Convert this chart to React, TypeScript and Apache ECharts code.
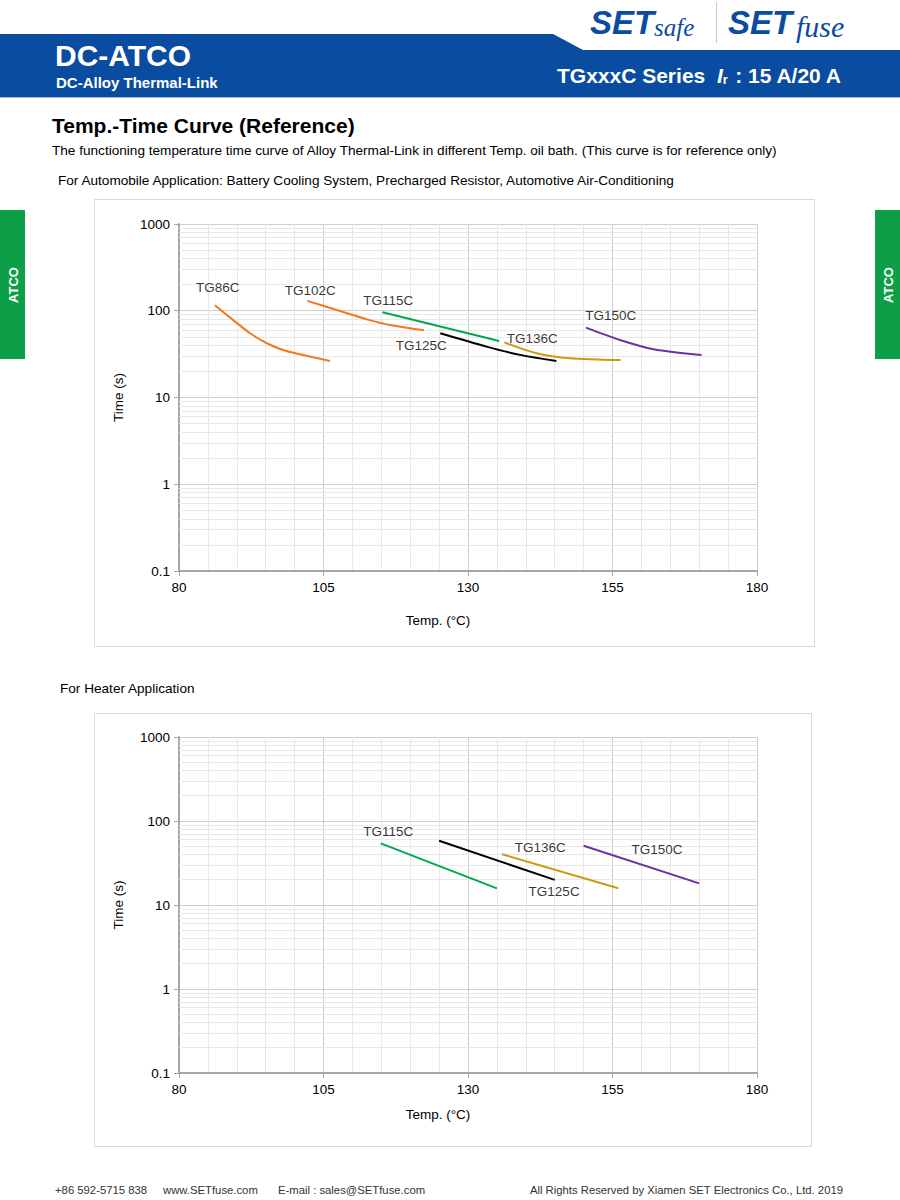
import React, { useEffect, useRef } from "react";
import * as echarts from "echarts";

// ---------- data ----------
const xTicks = [80, 105, 130, 155, 180];
const yTicks = [0.1, 1, 10, 100, 1000];
const minorMantissas = [2, 3, 4, 5, 6, 7, 8, 9];
const decades = [0.1, 1, 10, 100];

// Automobile application curves [temp °C, time s]
const autoTG86C = [[86.2, 116], [89.4, 78], [92.3, 55], [95.2, 42.2], [98, 35.3], [100.9, 31.5], [106.1, 26.4]];
const autoTG102C = [[102.2, 130], [107.3, 102], [113, 78], [116.5, 68.5], [122.4, 59.6]];
const autoTG115C = [[115.2, 96], [135.4, 44.8]];
const autoTG125C = [[125.2, 55], [133.2, 38.6], [139, 31], [145.3, 26.4]];
const autoTG136C = [[136.3, 43.2], [141.9, 32.4], [147.6, 28.3], [156.4, 27.0]];
const autoTG150C = [[150.4, 63.8], [156.3, 46], [162.1, 36], [170.4, 30.9]];
const autoLabels = [
  { name: "TG86C", value: [86.7, 183] },
  { name: "TG102C", value: [102.7, 173] },
  { name: "TG115C", value: [116.2, 133] },
  { name: "TG125C", value: [121.9, 39.3] },
  { name: "TG136C", value: [141.1, 48.5] },
  { name: "TG150C", value: [154.7, 87] },
];

// Heater application curves
const heatTG115C = [[114.9, 54.2], [135, 15.8]];
const heatTG125C = [[125, 58.2], [145, 19.9]];
const heatTG136C = [[135.9, 40.2], [156, 15.8]];
const heatTG150C = [[150, 50.8], [170, 18.1]];
const heatLabels = [
  { name: "TG115C", value: [116.2, 74] },
  { name: "TG125C", value: [144.9, 14.3] },
  { name: "TG136C", value: [142.5, 49] },
  { name: "TG150C", value: [162.7, 46.4] },
];

const COLORS = {
  orange: "#f07a22",
  green: "#00a84f",
  black: "#000000",
  gold: "#c99a12",
  purple: "#7030a0",
};

const FONT = "'Liberation Sans', Arial, Helvetica, sans-serif";
const BLUE = "#0a4c9f";
const FS = 13.5;

export default function App() {
  const ref = useRef<HTMLDivElement>(null);

  useEffect(() => {
    if (!ref.current) return;
    const chart = echarts.init(ref.current, null, { renderer: "svg" });

    const minorValues: number[] = [];
    decades.forEach((d) => minorMantissas.forEach((m) => minorValues.push(+(d * m).toPrecision(3))));

    const xAxisBase = (gridIndex: number, nameGap: number) => ({
      type: "value",
      gridIndex,
      min: xTicks[0],
      max: xTicks[xTicks.length - 1],
      interval: 25,
      name: "Temp. (°C)",
      nameLocation: "middle",
      nameGap,
      nameTextStyle: { fontFamily: FONT, fontSize: FS, color: "#000", padding: [0, 60, 0, 0] },
      axisLine: { show: true, lineStyle: { color: "#a6a6a6", width: 2 } },
      axisTick: { show: true, length: 5, lineStyle: { color: "#a6a6a6" } },
      axisLabel: { fontFamily: FONT, fontSize: FS, color: "#000", margin: 9 },
      splitLine: { show: true, lineStyle: { color: "#cfcfcf", width: 1 } },
      minorTick: { show: false, splitNumber: 5 },
      minorSplitLine: { show: true, lineStyle: { color: "#e8e8e8", width: 1 } },
    });

    const yAxisBase = (gridIndex: number) => ({
      type: "log",
      logBase: 10,
      gridIndex,
      min: yTicks[0],
      max: yTicks[yTicks.length - 1],
      name: "Time (s)",
      nameLocation: "middle",
      nameGap: 54,
      nameTextStyle: { fontFamily: FONT, fontSize: FS, color: "#000" },
      axisLine: { show: true, lineStyle: { color: "#a6a6a6", width: 2 } },
      axisTick: { show: true, length: 5, lineStyle: { color: "#a6a6a6" } },
      axisLabel: {
        fontFamily: FONT,
        fontSize: FS,
        color: "#000",
        margin: 9,
        formatter: (v: number) => String(+v.toPrecision(3)),
      },
      splitLine: { show: true, lineStyle: { color: "#cfcfcf", width: 1 } },
    });

    const gridMinor = (idx: number) => ({
      type: "line",
      xAxisIndex: idx,
      yAxisIndex: idx,
      data: [],
      silent: true,
      z: 1,
      markLine: {
        silent: true,
        symbol: ["none", "none"],
        label: { show: false },
        lineStyle: { color: "#e8e8e8", type: "solid", width: 1 },
        data: minorValues.map((v) => ({ yAxis: v })),
      },
    });

    const curve = (idx: number, data: number[][], color: string, smooth: boolean) => ({
      type: "line",
      xAxisIndex: idx,
      yAxisIndex: idx,
      data,
      smooth: smooth ? 0.3 : false,
      showSymbol: false,
      symbol: "none",
      z: 5,
      lineStyle: { color, width: 2 },
    });

    const labels = (idx: number, data: any[]) => ({
      type: "scatter",
      xAxisIndex: idx,
      yAxisIndex: idx,
      symbolSize: 0,
      z: 6,
      data,
      label: {
        show: true,
        formatter: "{b}",
        position: [0, 0],
        align: "center",
        verticalAlign: "middle",
        fontFamily: FONT,
        fontSize: FS,
        color: "#000",
      },
    });

    const txt = (x: number, y: number, text: string, style: any = {}) => ({
      type: "text",
      x,
      y,
      style: { text, fontFamily: FONT, fill: "#000", fontSize: FS, verticalAlign: "middle", ...style },
    });

    const option: any = {
      animation: false,
      backgroundColor: "#ffffff",
      grid: [
        { left: 179, top: 224, width: 578, height: 347 },
        { left: 179, top: 737, width: 578, height: 336 },
      ],
      xAxis: [xAxisBase(0, 42), xAxisBase(1, 34)],
      yAxis: [yAxisBase(0), yAxisBase(1)],
      series: [
        gridMinor(0),
        gridMinor(1),
        curve(0, autoTG86C, COLORS.orange, true),
        curve(0, autoTG102C, COLORS.orange, true),
        curve(0, autoTG115C, COLORS.green, false),
        curve(0, autoTG125C, COLORS.black, true),
        curve(0, autoTG136C, COLORS.gold, true),
        curve(0, autoTG150C, COLORS.purple, true),
        labels(0, autoLabels),
        curve(1, heatTG115C, COLORS.green, false),
        curve(1, heatTG125C, COLORS.black, false),
        curve(1, heatTG136C, COLORS.gold, false),
        curve(1, heatTG150C, COLORS.purple, false),
        labels(1, heatLabels),
      ],
      graphic: [
        // header band
        {
          type: "polygon",
          shape: { points: [[0, 34], [553, 34], [583, 50], [900, 50], [900, 97], [0, 97]] },
          style: { fill: BLUE },
          z: 0,
        },
        { type: "rect", shape: { x: 0, y: 97, width: 900, height: 1 }, style: { fill: "#9db8dc" } },
        txt(55, 55, "DC-ATCO", { fill: "#fff", fontSize: 30, fontWeight: "bold" }),
        txt(56, 82, "DC-Alloy Thermal-Link", { fill: "#fff", fontSize: 15, fontWeight: "bold" }),
        {
          type: "text",
          x: 841,
          y: 75,
          style: {
            text: "TGxxxC Series  {i|I}{s|r} : 15 A/20 A",
            align: "right",
            verticalAlign: "middle",
            fill: "#fff",
            fontFamily: FONT,
            fontSize: 21,
            fontWeight: "bold",
            rich: {
              i: { fontFamily: FONT, fontSize: 21, fontWeight: "bold", fontStyle: "italic", fill: "#fff" },
              s: { fontFamily: FONT, fontSize: 13, fontWeight: "bold", fill: "#fff", padding: [9, 0, 0, 0] },
            },
          },
        },
        // logos
        txt(590, 22, "SET", { fill: BLUE, fontSize: 33, fontWeight: "bold", fontStyle: "italic", fontFamily: "Arial, 'Liberation Sans', sans-serif" }),
        txt(654, 27, "safe", { fill: BLUE, fontSize: 25, fontStyle: "italic", fontFamily: "'Liberation Serif', 'DejaVu Serif', serif" }),
        { type: "rect", shape: { x: 716, y: 2, width: 1, height: 41 }, style: { fill: "#c8c8c8" } },
        txt(728, 22, "SET", { fill: BLUE, fontSize: 33, fontWeight: "bold", fontStyle: "italic", fontFamily: "Arial, 'Liberation Sans', sans-serif" }),
        txt(796, 26, "fuse", { fill: BLUE, fontSize: 30, fontStyle: "italic", fontFamily: "'Liberation Serif', 'DejaVu Serif', serif" }),
        // side tabs
        { type: "rect", shape: { x: 0, y: 210, width: 25, height: 149 }, style: { fill: "#0c9f48" } },
        { type: "rect", shape: { x: 875, y: 210, width: 25, height: 149 }, style: { fill: "#0c9f48" } },
        {
          type: "text",
          x: 13,
          y: 285,
          rotation: Math.PI / 2,
          style: { text: "ATCO", fill: "#fff", fontFamily: FONT, fontSize: 13, fontWeight: "bold", align: "center", verticalAlign: "middle" },
        },
        {
          type: "text",
          x: 888,
          y: 285,
          rotation: Math.PI / 2,
          style: { text: "ATCO", fill: "#fff", fontFamily: FONT, fontSize: 13, fontWeight: "bold", align: "center", verticalAlign: "middle" },
        },
        // titles
        txt(52, 125, "Temp.-Time Curve (Reference)", { fontSize: 21, fontWeight: "bold" }),
        txt(52, 150, "The functioning temperature time curve of Alloy Thermal-Link in different Temp. oil bath. (This curve is for reference only)", { fontSize: 13.6 }),
        txt(58, 180, "For Automobile Application: Battery Cooling System, Precharged Resistor, Automotive Air-Conditioning", { fontSize: 13.6 }),
        txt(60, 688, "For Heater Application", { fontSize: 13.6 }),
        // chart boxes
        { type: "rect", z: -1, shape: { x: 94.5, y: 199.5, width: 720, height: 447 }, style: { fill: "none", stroke: "#d9d9d9", lineWidth: 1 } },
        { type: "rect", z: -1, shape: { x: 94.5, y: 713.5, width: 717, height: 433 }, style: { fill: "none", stroke: "#d9d9d9", lineWidth: 1 } },
        // footer
        txt(55, 1190, "+86 592-5715 838", { fontSize: 11.3, fill: "#333" }),
        txt(163, 1190, "www.SETfuse.com", { fontSize: 11.3, fill: "#333" }),
        txt(278, 1190, "E-mail : sales@SETfuse.com", { fontSize: 11.3, fill: "#333" }),
        txt(843, 1190, "All Rights Reserved by Xiamen SET Electronics Co., Ltd. 2019", { fontSize: 11.3, fill: "#333", align: "right" }),
      ],
    };

    chart.setOption(option);
    return () => chart.dispose();
  }, []);

  return (
    <div style={{ position: "absolute", left: 0, top: 0, width: 900, height: 1200, background: "#fff" }}>
      <div ref={ref} style={{ width: 900, height: 1200 }} />
    </div>
  );
}
